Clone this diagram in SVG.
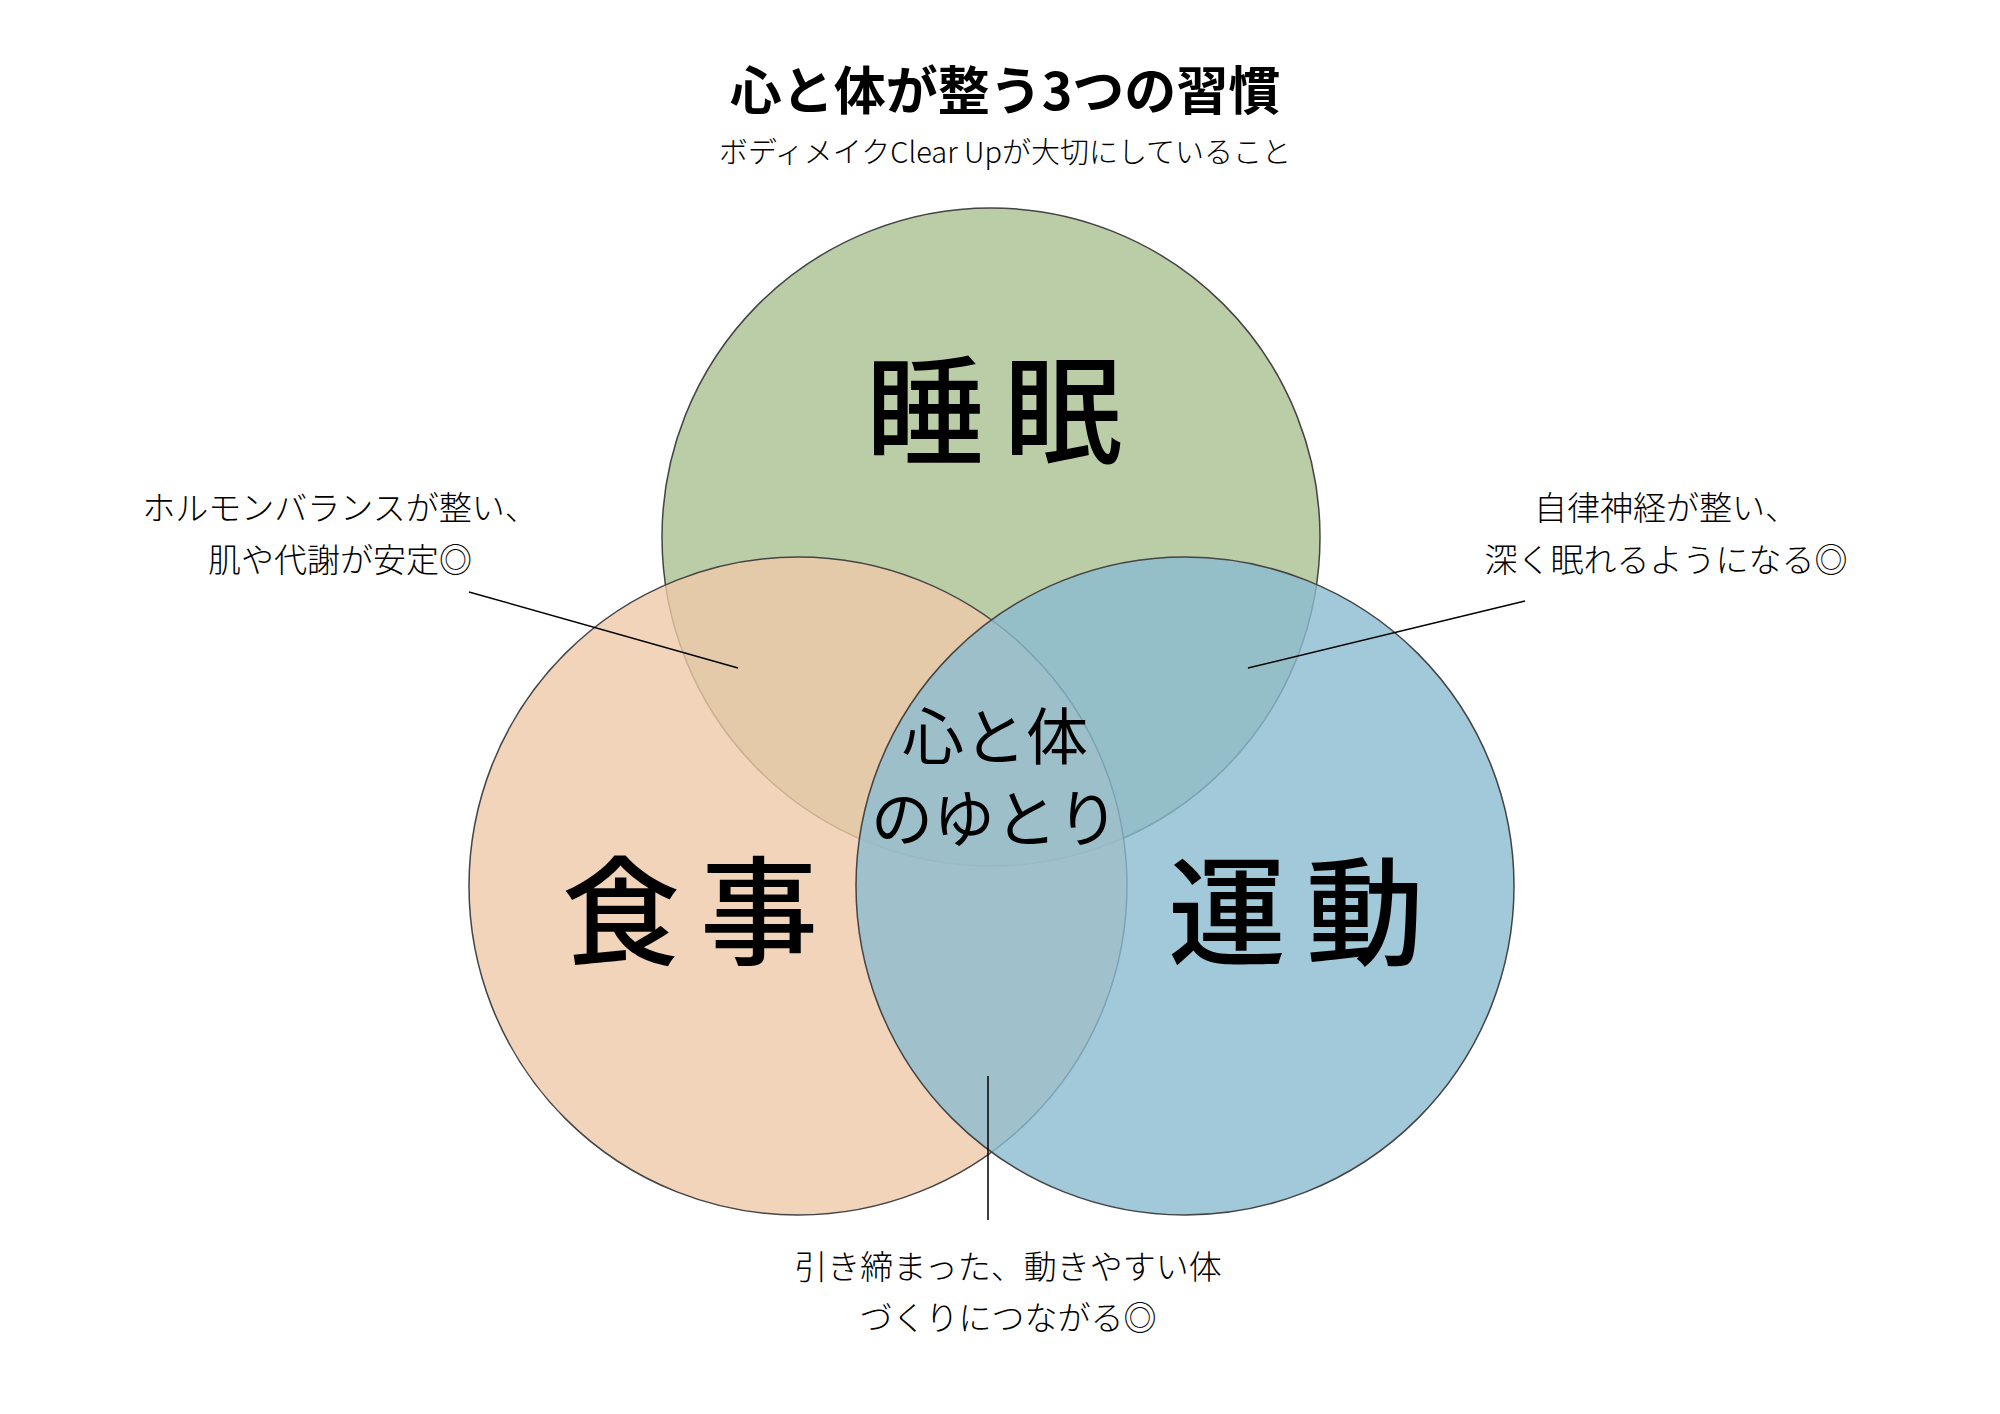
<svg xmlns="http://www.w3.org/2000/svg" width="2000" height="1414" viewBox="0 0 2000 1414">
<style>
text{font-family:"Noto Sans CJK JP","Noto Sans",sans-serif;text-anchor:middle;fill:#000}
.c{stroke:#444;stroke-width:1.5;fill-opacity:0.8}
.lb{font-size:33px;font-weight:300}
.big{font-size:118px;font-weight:500;letter-spacing:20px}
.ctr{font-size:62px;font-weight:400}
.ln{stroke:#000;stroke-width:1.5}
</style>
<rect width="2000" height="1414" fill="#fff"/>
<text x="1005" y="110" font-size="52" font-weight="700">心と体が整う3つの習慣</text>
<text x="1005" y="163" font-size="29" font-weight="300">ボディメイクClear Upが大切にしていること</text>
<g id="sleep"><circle class="c" cx="991" cy="537" r="329" fill="#a9c190"/><text class="big" x="1004" y="455">睡眠</text></g>
<g id="food"><circle class="c" cx="798" cy="886" r="329" fill="#efc9aa"/><text class="big" x="700" y="956">食事</text></g>
<g id="exercise"><circle class="c" cx="1185" cy="886" r="329" fill="#8bbbd1"/><text class="big" x="1306" y="956">運動</text></g>
<g id="center"><text class="ctr" x="995" y="760">心と体</text><text class="ctr" x="995" y="842">のゆとり</text></g>
<g id="label-left"><text class="lb" x="340" y="520">ホルモンバランスが整い、</text><text class="lb" x="340" y="572">肌や代謝が安定◎</text></g>
<g id="label-right"><text class="lb" x="1666" y="520">自律神経が整い、</text><text class="lb" x="1666" y="572">深く眠れるようになる◎</text></g>
<g id="label-bottom"><text class="lb" x="1008" y="1279">引き締まった、動きやすい体</text><text class="lb" x="1008" y="1330">づくりにつながる◎</text></g>
<g id="connectors">
<line class="ln" x1="469" y1="592" x2="738" y2="668"/>
<line class="ln" x1="1525" y1="601" x2="1248" y2="668"/>
<line class="ln" x1="988" y1="1076" x2="988" y2="1220"/>
</g>
</svg>
